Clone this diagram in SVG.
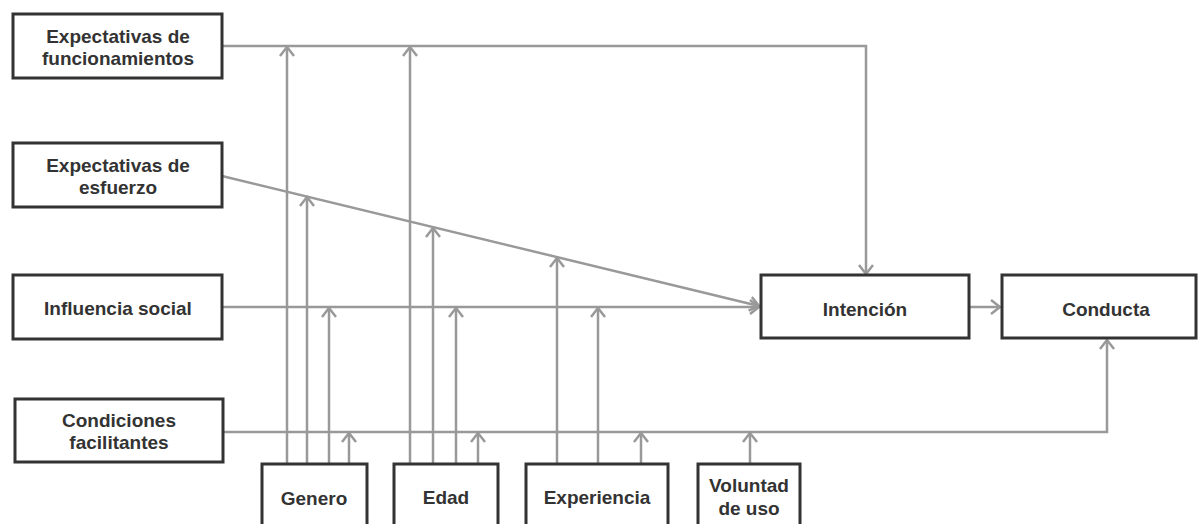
<svg xmlns="http://www.w3.org/2000/svg" width="1199" height="524" viewBox="0 0 1199 524">
<style>
.box{fill:#fff;stroke:#333;stroke-width:3}
.lbl{font-family:"Liberation Sans",Arial,sans-serif;font-weight:bold;font-size:19px;fill:#333;text-anchor:middle}
.arr{fill:none;stroke:#999;stroke-width:2.5;marker-end:url(#ah)}
</style>
<defs>
<marker id="ah" markerUnits="userSpaceOnUse" markerWidth="24" markerHeight="24" viewBox="-12 -12 14 24" refX="0" refY="0" orient="auto" overflow="visible">
<path d="M-9,-7 L0,0 L-9,7" fill="none" stroke="#999" stroke-width="2.5"/>
</marker>
</defs>
<rect width="1199" height="524" fill="#fff"/>
<g id="connectors">
<polyline class="arr" points="222,46 866,46 866,274"/>
<line class="arr" x1="222" y1="176" x2="759" y2="306"/>
<line class="arr" x1="222" y1="307" x2="759" y2="307"/>
<polyline class="arr" points="223,432 1107,432 1107,340"/>
<line class="arr" x1="969" y1="307" x2="1000" y2="307"/>
<line class="arr" x1="287" y1="463" x2="287" y2="47"/>
<line class="arr" x1="307" y1="463" x2="307" y2="197"/>
<line class="arr" x1="329" y1="463" x2="329" y2="308"/>
<line class="arr" x1="349" y1="463" x2="349" y2="433"/>
<line class="arr" x1="410" y1="463" x2="410" y2="47"/>
<line class="arr" x1="433" y1="463" x2="433" y2="228"/>
<line class="arr" x1="456" y1="463" x2="456" y2="308"/>
<line class="arr" x1="478" y1="463" x2="478" y2="433"/>
<line class="arr" x1="557" y1="463" x2="557" y2="258"/>
<line class="arr" x1="598" y1="463" x2="598" y2="308"/>
<line class="arr" x1="641" y1="463" x2="641" y2="433"/>
<line class="arr" x1="750" y1="463" x2="750" y2="433"/>
</g>
<g id="exp-func"><rect class="box" x="13" y="14" width="209" height="64"/><text class="lbl" x="118" y="43">Expectativas de</text><text class="lbl" x="118" y="65">funcionamientos</text></g>
<g id="exp-esf"><rect class="box" x="13" y="143" width="209" height="64"/><text class="lbl" x="118" y="172">Expectativas de</text><text class="lbl" x="118" y="194">esfuerzo</text></g>
<g id="influencia"><rect class="box" x="13" y="275" width="209" height="64"/><text class="lbl" x="118" y="315">Influencia social</text></g>
<g id="condiciones"><rect class="box" x="15" y="399" width="208" height="63"/><text class="lbl" x="119" y="427">Condiciones</text><text class="lbl" x="119" y="449">facilitantes</text></g>
<g id="intencion"><rect class="box" x="761" y="275" width="208" height="63"/><text class="lbl" x="865" y="316">Intención</text></g>
<g id="conducta"><rect class="box" x="1002" y="275" width="194" height="63"/><text class="lbl" x="1106" y="316">Conducta</text></g>
<g id="genero"><rect class="box" x="262" y="464" width="105" height="70"/><text class="lbl" x="314" y="505">Genero</text></g>
<g id="edad"><rect class="box" x="394" y="464" width="104" height="70"/><text class="lbl" x="446" y="504">Edad</text></g>
<g id="experiencia"><rect class="box" x="526" y="464" width="142" height="70"/><text class="lbl" x="597" y="504">Experiencia</text></g>
<g id="voluntad"><rect class="box" x="698" y="464" width="102" height="70"/><text class="lbl" x="749" y="492">Voluntad</text><text class="lbl" x="749" y="515">de uso</text></g>
</svg>
